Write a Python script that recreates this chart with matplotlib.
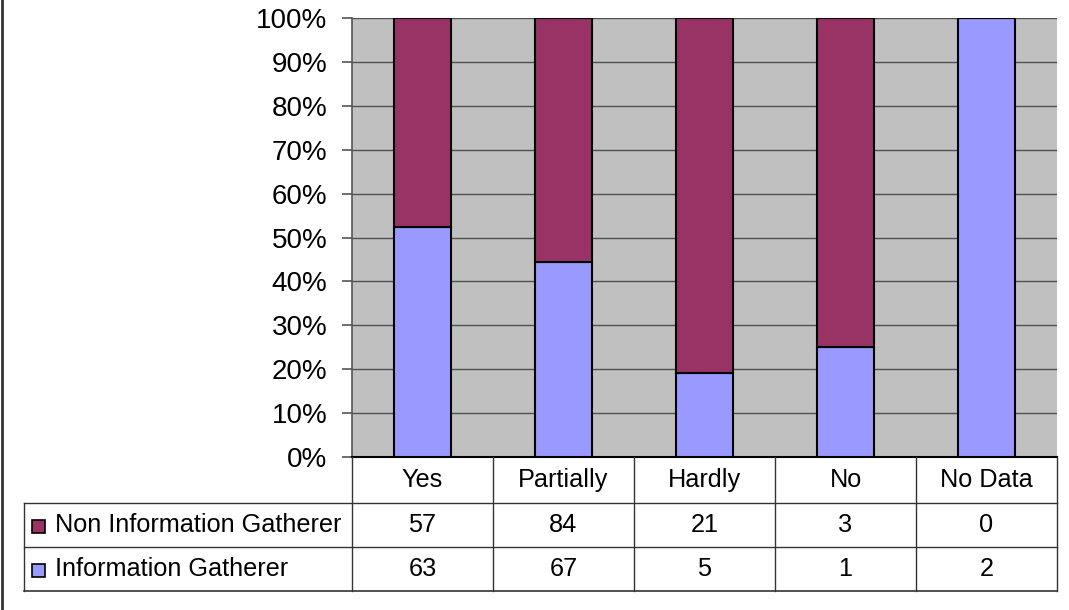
import matplotlib
matplotlib.use("Agg")
import matplotlib.pyplot as plt
import numpy as np

categories = ["Yes", "Partially", "Hardly", "No", "No Data"]
series_names = ["Non Information Gatherer", "Information Gatherer"]
non_info = [57, 84, 21, 3, 0]
info = [63, 67, 5, 1, 2]
yticklabels = ["0%", "10%", "20%", "30%", "40%", "50%", "60%", "70%", "80%", "90%", "100%"]

c_non = "#993366"
c_info = "#9999FF"
bg = "#C0C0C0"

plt.rcParams['font.family'] = ['Liberation Sans', 'DejaVu Sans']
W, H = 1069, 610
fig = plt.figure(figsize=(W / 100, H / 100), dpi=100)

# plot area in pixels
L, R, T, B = 352, 1057, 18, 457
ax = fig.add_axes([L / W, 1 - B / H, (R - L) / W, (B - T) / H])
ax.set_facecolor(bg)

non = np.array(non_info, float)
inf = np.array(info, float)
tot = non + inf
p_info = inf / tot * 100
p_non = non / tot * 100
x = np.arange(len(categories))
bw = 0.4
ax.bar(x, p_info, bw, color=c_info, edgecolor="black", linewidth=1.5, zorder=3)
ax.bar(x, p_non, bw, bottom=p_info, color=c_non, edgecolor="black", linewidth=1.5, zorder=3)

ax.set_xlim(-0.5, len(categories) - 0.5)
ax.set_ylim(0, 100)
ax.set_yticks(np.arange(0, 101, 10))
ax.set_yticklabels(yticklabels, fontsize=20)
ax.set_xticks([])
ax.yaxis.grid(True, color="#505050", linewidth=1.0, zorder=1)
ax.set_axisbelow(True)
ax.tick_params(axis="y", length=7.2, width=1.2, color="#555555", pad=10.5)
for s in ["top", "right"]:
    ax.spines[s].set_visible(False)
ax.spines["left"].set_color("#555555")
ax.spines["left"].set_linewidth(1.2)
ax.spines["bottom"].set_color("black")
ax.spines["bottom"].set_linewidth(1.5)

# table drawn in pixel coordinates on an overlay axes
tab = fig.add_axes([0, 0, 1, 1])
tab.set_xlim(0, W)
tab.set_ylim(H, 0)
tab.axis("off")
tab.patch.set_alpha(0)

lc = "#333333"
LEG = 24
rows_y = [457, 503, 547, 591]
col_w = (R - L) / len(categories)
cols_x = [L + i * col_w for i in range(len(categories) + 1)]
fs = 18.2

# horizontal lines
tab.plot([LEG, R], [rows_y[1], rows_y[1]], color=lc, lw=1)
tab.plot([LEG, R], [rows_y[2], rows_y[2]], color=lc, lw=1)
tab.plot([LEG, R], [rows_y[3], rows_y[3]], color=lc, lw=1.2)
# vertical lines
tab.plot([LEG, LEG], [rows_y[1], rows_y[3]], color=lc, lw=1)
for i, cx in enumerate(cols_x):
    tab.plot([cx, cx], [rows_y[0], rows_y[3]], color=lc, lw=1)

# header
for i, cat in enumerate(categories):
    cx = (cols_x[i] + cols_x[i + 1]) / 2
    tab.text(cx, (rows_y[0] + rows_y[1]) / 2, cat, ha="center", va="center", fontsize=fs)

# rows
row_vals = [non_info, info]
row_cols = [c_non, c_info]
for r in range(2):
    cy = (rows_y[r + 1] + rows_y[r + 2]) / 2
    tab.add_patch(plt.Rectangle((32, cy - 5), 13, 13, facecolor=row_cols[r],
                                edgecolor="black", lw=1.2))
    tab.text(55, cy, series_names[r], ha="left", va="center", fontsize=fs)
    for i, v in enumerate(row_vals[r]):
        cx = (cols_x[i] + cols_x[i + 1]) / 2
        tab.text(cx, cy, str(v), ha="center", va="center", fontsize=fs)

# outer border (left edge visible)
tab.plot([2, 2], [0, H], color="#333333", lw=2)

fig.savefig("out.png", dpi=100, facecolor="white")
